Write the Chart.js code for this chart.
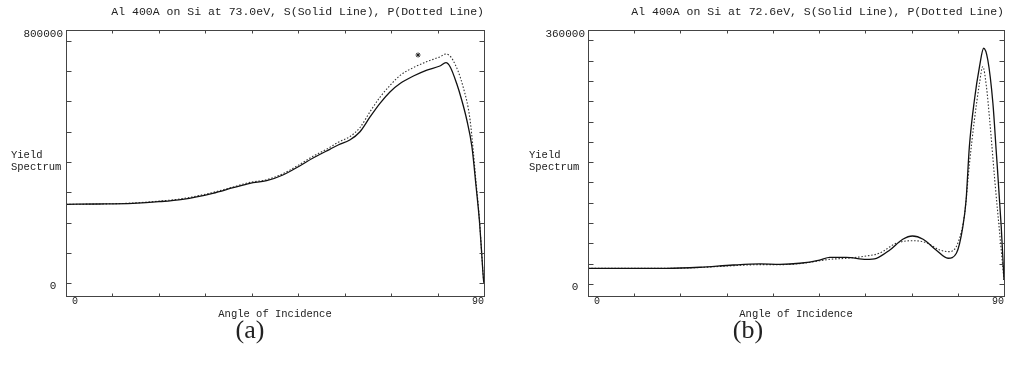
<!DOCTYPE html>
<html>
<head>
<meta charset="utf-8">
<script src="https://cdn.jsdelivr.net/npm/chart.js@4.4.1/dist/chart.umd.min.js"></script>
<style>
  body { margin: 0; background: #fff; width: 1011px; height: 366px; overflow: hidden; position: relative; }
  canvas { position: absolute; top: 0; }
  #chartA { left: 0; }
  #chartB { left: 521px; }
  .ylab { position: absolute; font: 10.5px 'Liberation Mono', monospace; line-height: 12px; color: #222; }
  .cap { position: absolute; font: 26px 'Liberation Serif', serif; color: #222; transform: translate(-50%, -50%); }
</style>
</head>
<body>
<canvas id="chartA" width="500" height="366"></canvas>
<canvas id="chartB" width="490" height="366"></canvas>
<div class="ylab" style="left:11px; top:149px">Yield<br>Spectrum</div>
<div class="ylab" style="left:529px; top:149px">Yield<br>Spectrum</div>
<div class="cap" style="left:250px; top:330px">(a)</div>
<div class="cap" style="left:748px; top:330px">(b)</div>
<script>
const titleA = 'Al 400A on Si at 73.0eV, S(Solid Line), P(Dotted Line)'
const titleB = 'Al 400A on Si at 72.6eV, S(Solid Line), P(Dotted Line)'

// (a) 73.0 eV
const angleA_S = [0, 7, 14.4, 20, 25.1, 31.6, 36, 39.6, 43.2, 46.7, 50.3, 53.1, 56.8, 58.6, 61.1, 63.3, 65.5, 67.6, 69.8, 72.0, 74.8, 77.7, 80.5, 81.8, 82.7, 84.1, 85.2, 86.3, 87.4, 88.3, 89.0, 89.5, 89.9, 90]
const yieldA_S = [250500, 251400, 253700, 258700, 266300, 285400, 303100, 317100, 325300, 343400, 371900, 396400, 424900, 438500, 454400, 480700, 528300, 570700, 607500, 634200, 657300, 676300, 689000, 699500, 686800, 634200, 581200, 517800, 433100, 306300, 200700, 95100, 10500, 0]
const angleA_P = [0, 7, 14.4, 20, 25.1, 31.6, 36, 39.6, 43.2, 46.7, 50.3, 53.1, 56.8, 58.6, 61.1, 63.3, 65.5, 67.6, 69.8, 72.0, 74.8, 77.7, 80.5, 81.8, 83.3, 85.5, 87.0, 88.3, 89.0, 89.5, 89.9, 90]
const yieldA_P = [250500, 251400, 254500, 260500, 268500, 288000, 305500, 320000, 328500, 347500, 377000, 402000, 431000, 447000, 465000, 494000, 545000, 590000, 628000, 660000, 684000, 703000, 718000, 727000, 708000, 623000, 518000, 320000, 205000, 97000, 11000, 0]
const markAngleA = [75.8]
const markYieldA = [723900]

// (b) 72.6 eV
const angleB_S = [0, 17.0, 24.2, 31.4, 37.2, 41.5, 45.8, 50.1, 52.3, 55.9, 60.2, 62.4, 65.3, 68.1, 70.2, 72.5, 75.3, 77.9, 79.7, 81.1, 81.8, 82.5, 83.6, 84.7, 85.6, 86.5, 87.6, 88.3, 89.4, 90]
const yieldB_S = [22300, 22300, 23800, 27000, 28500, 28000, 29500, 34100, 38000, 38000, 35100, 36600, 48400, 63600, 68300, 63600, 48400, 36600, 43700, 81500, 119500, 195000, 261800, 309200, 335400, 318700, 257100, 190700, 81500, 5700]
const angleB_P = [0, 17.0, 24.2, 31.4, 37.2, 41.5, 45.8, 50.1, 52.3, 55.9, 60.2, 63.0, 66.7, 70.3, 73.2, 76.1, 78.2, 80.0, 81.5, 82.5, 83.6, 84.7, 85.4, 86.2, 86.9, 88.0, 89.2, 90]
const yieldB_P = [22300, 22300, 23500, 26000, 27500, 27500, 29000, 33000, 35100, 36600, 39800, 43700, 57900, 61600, 58800, 48400, 46000, 57900, 100600, 169300, 233400, 285600, 309200, 280700, 233400, 148000, 62600, 5700]

// axes
const xLabels = [0, 90]
const xTickMarks = [10, 20, 30, 40, 50, 60, 70, 80]
const yLabelsA = [0, 800000]
const yTickMarksA = [0, 96200, 192400, 288500, 384700, 480900, 577100, 673200, 769400]
const yLabelsB = [0, 360000]
const yTickMarksB = [0, 28900, 57800, 86700, 115600, 144500, 173400, 202300, 231200, 260100, 289000, 317900, 346800]

const mono = "'Liberation Mono', monospace"
const ink = '#222'

const pairs = (xs, ys) => xs.map((x, i) => ({ x: x, y: ys[i] }))

// box round the plot with inward ticks on all four sides
const frame = {
  id: 'frame',
  afterDatasetsDraw (chart, args, opts) {
    const { ctx, chartArea: a, scales } = chart
    const L = Math.round(a.left) + 0.5
    const R = Math.round(a.right) + 0.5
    const T = Math.round(a.top) + 0.5
    const B = Math.round(a.bottom) + 0.5
    ctx.save()
    ctx.strokeStyle = '#444'
    ctx.lineWidth = 1
    ctx.strokeRect(L, T, R - L, B - T)
    ctx.beginPath()
    opts.xMarks.forEach(v => {
      const x = Math.round(scales.x.getPixelForValue(v)) + 0.5
      ctx.moveTo(x, B); ctx.lineTo(x, B - 3)
      ctx.moveTo(x, T); ctx.lineTo(x, T + 3)
    })
    opts.yMarks.forEach(v => {
      const y = Math.round(scales.y.getPixelForValue(v)) + 0.5
      ctx.moveTo(L, y); ctx.lineTo(L + 5, y)
      ctx.moveTo(R, y); ctx.lineTo(R - 5, y)
    })
    ctx.stroke()
    ctx.restore()
  }
}

function makeChart (id, title, padRight, leftW, yMin, yMax, yLabels, yMarks, datasets) {
  return new Chart(document.getElementById(id), {
    type: 'line',
    data: { datasets: datasets },
    plugins: [frame],
    options: {
      responsive: false,
      animation: false,
      layout: { padding: { left: 0, right: padRight, top: 0, bottom: 0 } },
      plugins: {
        legend: { display: false },
        tooltip: { enabled: false },
        title: {
          display: true,
          text: title,
          align: 'end',
          color: ink,
          font: { family: mono, size: 11.5, weight: 'normal', lineHeight: 1.2 },
          padding: { top: 5, bottom: 11.2 }
        },
        frame: { xMarks: xTickMarks, yMarks: yMarks }
      },
      scales: {
        x: {
          type: 'linear',
          min: 0,
          max: 90,
          grid: { display: false, drawTicks: false },
          border: { display: false },
          afterBuildTicks: s => { s.ticks = xLabels.map(v => ({ value: v })) },
          afterFit: s => { s.height = 70 },
          ticks: {
            align: 'inner',
            padding: 0,
            autoSkip: false,
            maxRotation: 0,
            color: ink,
            font: { family: mono, size: 10, lineHeight: 1 },
            callback: v => (v === 0 ? ' 0' : String(v))
          },
          title: {
            display: true,
            text: 'Angle of Incidence',
            color: ink,
            font: { family: mono, size: 10.5, lineHeight: 1.2 },
            padding: { top: 0, bottom: 45.7 }
          }
        },
        y: {
          type: 'linear',
          min: yMin,
          max: yMax,
          grid: { display: false, drawTicks: false },
          border: { display: false },
          afterBuildTicks: s => { s.ticks = yLabels.map(v => ({ value: v })) },
          afterFit: s => { s.width = leftW },
          ticks: {
            padding: 3,
            labelOffset: 3,
            color: ink,
            font: { family: mono, size: 11 },
            callback: v => (v === 0 ? '0 ' : String(v))
          }
        }
      }
    }
  })
}

const solid = { borderColor: '#111', borderWidth: 1.3, pointRadius: 0, cubicInterpolationMode: 'monotone', fill: false }
const dotted = { borderColor: '#333', borderWidth: 1.1, borderDash: [1.5, 1.8], pointRadius: 0, cubicInterpolationMode: 'monotone', fill: false }

makeChart('chartA', titleA, 16, 66, -40300, 803200, yLabelsA, yTickMarksA, [
  Object.assign({ label: 'S', data: pairs(angleA_S, yieldA_S) }, solid),
  Object.assign({ label: 'P', data: pairs(angleA_P, yieldA_P) }, dotted),
  { label: 'mark', data: pairs(markAngleA, markYieldA), showLine: false, pointStyle: 'star', pointRadius: 2.5, borderColor: '#222', borderWidth: 1 }
])

makeChart('chartB', titleB, 7, 67, -17100, 361400, yLabelsB, yTickMarksB, [
  Object.assign({ label: 'S', data: pairs(angleB_S, yieldB_S) }, solid),
  Object.assign({ label: 'P', data: pairs(angleB_P, yieldB_P) }, dotted)
])
</script>
</body>
</html>
